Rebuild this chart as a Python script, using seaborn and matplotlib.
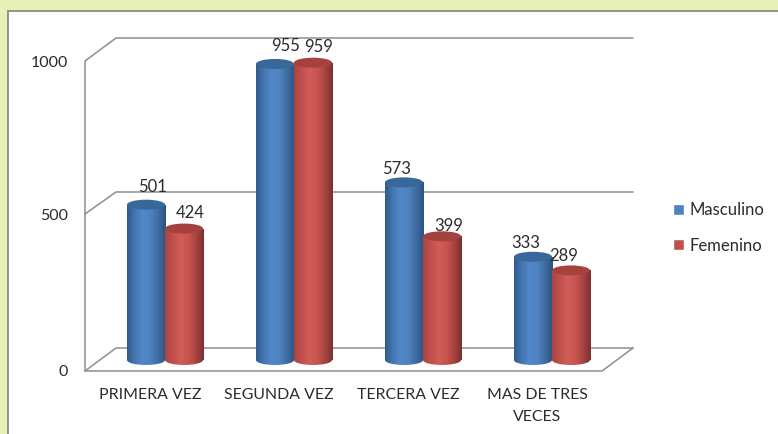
import numpy as np
import pandas as pd
import matplotlib
matplotlib.use('Agg')
import matplotlib.pyplot as plt
import seaborn as sns
from matplotlib.colors import LinearSegmentedColormap
from matplotlib.lines import Line2D
from matplotlib.patches import Ellipse, Rectangle
from matplotlib.transforms import Affine2D

categorias = ['PRIMERA VEZ', 'SEGUNDA VEZ', 'TERCERA VEZ', 'MAS DE TRES\nVECES']
masculino = [501, 955, 573, 333]
femenino = [424, 959, 399, 289]
y_ticks = [0, 500, 1000]

W, H = 778, 434
GREY = '#8e8e8e'
TXT = '#2b2b2b'

sns.set_theme(style='white')
plt.rcParams['font.family'] = ['Lato', 'DejaVu Sans']

df = pd.DataFrame({
    'cat': categorias * 2,
    'valor': masculino + femenino,
    'sexo': ['Masculino'] * 4 + ['Femenino'] * 4,
})

fig = plt.figure(figsize=(W / 100, H / 100), dpi=100, facecolor='#e6f1b7')
# pixel coordinates of the picture, y going down
px = Affine2D().scale(1, -1).translate(0, H)

fig.add_artist(Rectangle((8, 11), W, H, transform=px, fc='white', ec='#8a8a8a', lw=1.3, zorder=-2))

# 3d box: back wall, side wall and floor
paredes = [
    [(85, 371), (85, 61), (116, 38), (633, 38)],
    [(85, 214), (116, 192), (633, 192)],
    [(85, 371), (116, 348), (633, 348)],
    [(85, 371), (602, 371), (633, 348)],
]
for p in paredes:
    xs, ys = zip(*p)
    fig.add_artist(Line2D(xs, ys, transform=px, color=GREY, lw=1.1, zorder=-1))

ax = fig.add_axes([85 / W, 1 - 371 / H, (633 - 85) / W, (371 - 38) / H])
ax.patch.set_visible(False)

sns.barplot(data=df, x='cat', y='valor', hue='sexo', hue_order=['Masculino', 'Femenino'],
            palette=['#4f81bd', '#c0504d'], width=0.59, gap=0, saturation=1, ax=ax, zorder=3)

xlim = ((85 - 165) / 129, (633 - 165) / 129)
ylim = ((360 - 371) / 0.31, (360 - 38) / 0.31)

cmaps = [
    LinearSegmentedColormap.from_list('az', ['#2f5a8c', '#4476b0', '#5288c9', '#4f82c0', '#3f6da3', '#2b5280']),
    LinearSegmentedColormap.from_list('ro', ['#a84440', '#c0504d', '#d25c59', '#c9544f', '#a84441', '#7a302e']),
]
tapas = ['#3a6799', '#a5413e']
grad = np.linspace(0, 1, 128).reshape(1, -1)
ELL = 10 / 0.31  # ellipse height in data units

# label nudges in pixels, the original labels dodge each other
offs = [[(7, 18), (11, 18), (-7, 13), (-7, 14)], [(6, 16), (6, 16), (7, 10), (-7, 14)]]

for k, cont in enumerate(ax.containers):
    for i, bar in enumerate(cont):
        x0, w, h = bar.get_x(), bar.get_width(), bar.get_height()
        z = 3 + k * 0.5
        bar.set_visible(False)
        cuerpo = Rectangle((x0, 0), w, h, transform=ax.transData)
        im = ax.imshow(grad, extent=(x0, x0 + w, 0, h), aspect='auto', cmap=cmaps[k], zorder=z)
        im.set_clip_path(cuerpo)
        base = Ellipse((x0 + w / 2, 0), w, ELL, transform=ax.transData)
        im2 = ax.imshow(grad, extent=(x0, x0 + w, -ELL / 2, 0), aspect='auto', cmap=cmaps[k], zorder=z)
        im2.set_clip_path(base)
        ax.add_patch(Ellipse((x0 + w / 2, h), w, ELL, fc=tapas[k], ec='none', zorder=z + 0.1))
        ax.annotate(str(int(h)), (x0 + w / 2, h), xytext=offs[k][i], textcoords='offset pixels',
                    ha='center', va='center', color=TXT, fontsize=12, zorder=10, annotation_clip=False)

ax.set_xlim(xlim)
ax.set_ylim(ylim)
ax.set_xlabel('')
ax.set_ylabel('')
ax.set_yticks([])
# category labels sit left of the bars because of the 3d depth
ax.set_xticks(np.arange(len(categorias)) - 15 / 129)
ax.set_xticklabels(categorias, linespacing=1.75)
ax.tick_params(axis='x', length=0, pad=12, labelsize=11.4, labelcolor=TXT)
for s in ax.spines.values():
    s.set_visible(False)

# y labels sit on the front plane, not at the bar depth
for v, py in zip(y_ticks, [371, 215, 62]):
    fig.text(68, py + 1, str(v), transform=px, ha='right', va='center', color=TXT, fontsize=11.5)

handles, labels = ax.get_legend_handles_labels()
ax.get_legend().remove()
fig.legend(handles, labels, loc='center left', bbox_to_anchor=(673 / W, 1 - 228 / H), frameon=False,
           fontsize=12, handlelength=0.65, handleheight=0.65, handletextpad=0.35, labelspacing=1.15,
           labelcolor=TXT, borderpad=0, borderaxespad=0)

fig.savefig('out.png', dpi=100, facecolor=fig.get_facecolor())
